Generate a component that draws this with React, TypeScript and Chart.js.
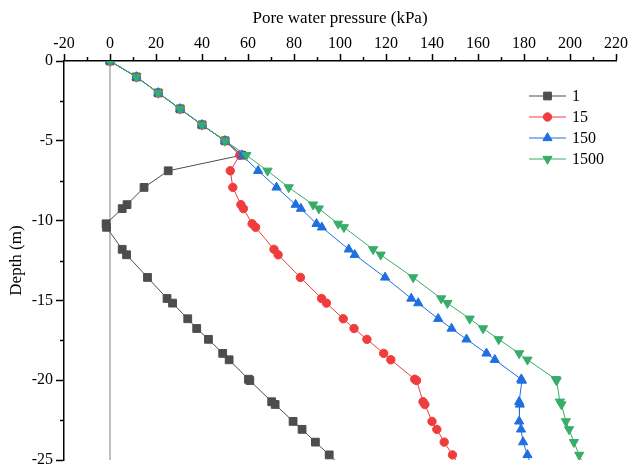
import { useEffect, useRef } from 'react';
import { Chart, registerables } from 'chart.js';
import { drawPoint } from 'chart.js/helpers';

Chart.register(...registerables);

// Depth of each output node (m), shared by all time steps
const depth = [
  0, -1, -2, -3, -4, -5, -5.9, -6.88, -7.92, -9.0, -9.25, -10.2, -10.42, -11.8, -12.14,
  -13.56, -14.88, -15.17, -16.15, -16.76, -17.44, -18.32, -18.72, -19.94, -20.02,
  -21.35, -21.52, -22.58, -23.08, -23.88, -24.68, -25.5,
];

// Pore water pressure (kPa) at each node for the four time steps
const pwp1 = [
  0, 11.5, 21, 30.5, 40, 50, 57.3, 25.3, 14.8, 7.4, 5.3, -1.7, -1.5, 5.3, 7.2,
  16.3, 24.8, 27.2, 33.8, 37.7, 42.8, 49.0, 51.8, 60.2, 60.8,
  70.3, 71.8, 79.6, 83.5, 89.3, 95.3, 101.5,
];
const pwp15 = [
  0, 11.5, 21, 30.5, 40, 50, 56.4, 52.3, 53.4, 56.9, 58.0, 61.8, 63.3, 71.3, 73.1,
  82.8, 92.0, 94.1, 101.4, 106.1, 111.7, 119.0, 122.1, 132.5, 133.3,
  136.1, 136.9, 140.0, 142.1, 145.3, 148.9, 152.6,
];
const pwp150 = [
  0, 11.5, 21, 30.5, 40, 50, 57.4, 64.4, 72.4, 80.7, 83.0, 89.8, 92.1, 103.8, 106.4,
  119.6, 131.0, 134.0, 142.7, 148.5, 155.0, 163.7, 167.3, 178.8, 179.1,
  177.9, 178.2, 177.9, 178.7, 179.6, 181.5, 183.5,
];
const pwp1500 = [
  0, 11.5, 21, 30.5, 40, 50, 59.3, 68.5, 77.7, 88.3, 90.8, 99.2, 101.7, 114.4, 117.7,
  131.8, 144.0, 146.7, 156.4, 162.2, 169.0, 177.9, 181.5, 193.8, 194.2,
  195.6, 196.3, 198.2, 199.6, 201.7, 204.0, 206.5,
];

const seriesLabels = ['1', '15', '150', '1500'];
const seriesValues = [pwp1, pwp15, pwp150, pwp1500];
const seriesColors = ['#4d4d4d', '#ef3c3c', '#1f6fe0', '#38ad69'];
const seriesShapes = ['rect', 'circle', 'triangle', 'triangle'];
const seriesRotation = [0, 0, 0, 180];
const seriesRadius = [5.5, 4.2, 5.3, 5.3];

const X_MIN = -20;
const X_MAX = 220;
const X_STEP = 20;
const Y_MIN = -25;
const Y_MAX = 0;
const Y_STEP = 5;

const FONT_FAMILY = '"Liberation Serif", "Times New Roman", serif';

// Short unlabelled ticks half-way between the labelled ones
const minorTicks = {
  id: 'minorTicks',
  afterDraw(chart: any) {
    const { ctx, scales } = chart;
    const xs = scales.x;
    const ys = scales.y;
    ctx.save();
    ctx.strokeStyle = '#000';
    ctx.lineWidth = 1.5;
    for (let v = X_MIN + X_STEP / 2; v < X_MAX; v += X_STEP) {
      const px = Math.round(xs.getPixelForValue(v)) + 0.5;
      ctx.beginPath();
      ctx.moveTo(px, xs.bottom);
      ctx.lineTo(px, xs.bottom - 4);
      ctx.stroke();
    }
    for (let v = Y_MIN + Y_STEP / 2; v < Y_MAX; v += Y_STEP) {
      const py = Math.round(ys.getPixelForValue(v)) + 0.5;
      ctx.beginPath();
      ctx.moveTo(ys.right, py);
      ctx.lineTo(ys.right - 4, py);
      ctx.stroke();
    }
    ctx.restore();
  },
};

// Legend entries drawn as a short line with the series marker on it
const lineLegend = {
  id: 'lineLegend',
  afterDraw(chart: any) {
    const { ctx, chartArea } = chart;
    const x0 = chartArea.right - 87;
    const x1 = chartArea.right - 50;
    const tx = chartArea.right - 44;
    const top = chartArea.top + 35;
    const rowH = 21;
    ctx.save();
    chart.data.datasets.forEach((ds: any) => {
      if (ds.legendIndex === undefined) return;
      const y = top + ds.legendIndex * rowH;
      ctx.strokeStyle = ds.borderColor;
      ctx.lineWidth = 1;
      ctx.beginPath();
      ctx.moveTo(x0, y);
      ctx.lineTo(x1, y);
      ctx.stroke();
      ctx.fillStyle = ds.pointBackgroundColor;
      ctx.strokeStyle = ds.pointBorderColor;
      drawPoint(
        ctx,
        {
          pointStyle: ds.pointStyle,
          radius: ds.pointRadius,
          rotation: ds.pointRotation,
          borderWidth: 1,
        },
        (x0 + x1) / 2,
        y,
      );
      ctx.fillStyle = '#000';
      ctx.font = `16px ${FONT_FAMILY}`;
      ctx.textAlign = 'left';
      ctx.textBaseline = 'middle';
      ctx.fillText(ds.label, tx, y + 1);
    });
    ctx.restore();
  },
};

export default function App() {
  const canvasRef = useRef<HTMLCanvasElement | null>(null);

  useEffect(() => {
    const canvas = canvasRef.current;
    if (!canvas) return;

    const zeroLine = {
      label: 'zero',
      data: [
        { x: 0, y: Y_MAX },
        { x: 0, y: Y_MIN },
      ],
      borderColor: '#aaaaaa',
      borderWidth: 1.5,
      pointRadius: 0,
      pointHoverRadius: 0,
      order: 10,
    };

    const series = seriesLabels.map((label, i) => ({
      label,
      legendIndex: i,
      data: depth.map((d, k) => ({ x: seriesValues[i][k], y: d })),
      borderColor: seriesColors[i],
      backgroundColor: seriesColors[i],
      pointBackgroundColor: seriesColors[i],
      pointBorderColor: seriesColors[i],
      borderWidth: 1,
      pointStyle: seriesShapes[i],
      pointRotation: seriesRotation[i],
      pointRadius: seriesRadius[i],
      pointBorderWidth: 1,
      tension: 0,
      order: 4 - i,
    }));

    const font = { family: FONT_FAMILY, size: 16 };
    const titleFont = { family: FONT_FAMILY, size: 17 };

    const chart = new Chart(canvas, {
      type: 'line',
      data: { datasets: [zeroLine, ...series] as any },
      options: {
        responsive: false,
        animation: false,
        devicePixelRatio: 1,
        layout: { padding: { left: 0, top: 0, right: 14, bottom: 8 } },
        plugins: {
          legend: { display: false },
          tooltip: { enabled: false },
        },
        scales: {
          x: {
            type: 'linear',
            position: 'top',
            min: X_MIN,
            max: X_MAX,
            ticks: {
              stepSize: X_STEP,
              font,
              color: '#000',
              padding: 1,
              maxRotation: 0,
              autoSkip: false,
            },
            grid: {
              drawOnChartArea: false,
              drawTicks: true,
              tickLength: 7,
              tickWidth: 1.5,
              tickColor: '#000',
            },
            border: { display: true, color: '#000', width: 1.5 },
            title: {
              display: true,
              text: 'Pore water pressure (kPa)',
              font: titleFont,
              color: '#000',
              padding: { top: 8, bottom: 0 },
            },
            afterFit(scale: any) {
              scale.height = 61;
              scale.paddingLeft = 0;
              scale.paddingRight = 0;
            },
          },
          y: {
            type: 'linear',
            min: Y_MIN,
            max: Y_MAX,
            ticks: {
              stepSize: Y_STEP,
              font,
              color: '#000',
              padding: 3,
            },
            grid: {
              drawOnChartArea: false,
              drawTicks: true,
              tickLength: 8,
              tickWidth: 1.5,
              tickColor: '#000',
            },
            border: { display: true, color: '#000', width: 1.5 },
            title: {
              display: true,
              text: 'Depth (m)',
              font: titleFont,
              color: '#000',
              padding: { top: 6, bottom: 0 },
            },
            afterFit(scale: any) {
              scale.width = 64;
              scale.paddingTop = 0;
              scale.paddingBottom = 0;
            },
          },
        },
      } as any,
      plugins: [minorTicks, lineLegend],
    });

    return () => chart.destroy();
  }, []);

  return (
    <div
      style={{
        position: 'absolute',
        left: 0,
        top: 0,
        width: 630,
        height: 468,
        background: '#fff',
      }}
    >
      <canvas ref={canvasRef} width={630} height={468} style={{ display: 'block' }} />
    </div>
  );
}
